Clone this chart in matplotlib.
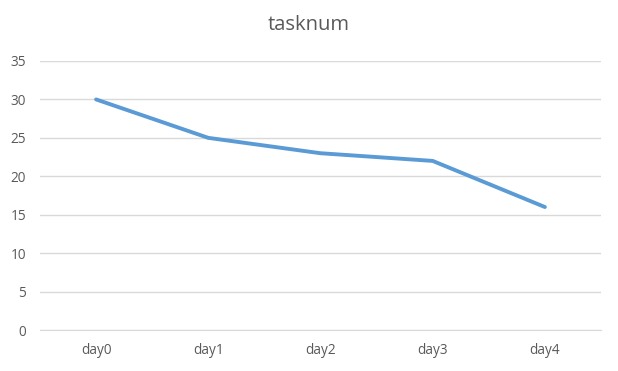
import matplotlib.pyplot as plt

days = ["day0", "day1", "day2", "day3", "day4"]
tasknum = [30, 25, 23, 22, 16]
yticks = [0, 5, 10, 15, 20, 25, 30, 35]

plt.rcParams['font.family'] = ['Open Sans', 'DejaVu Sans']

fig = plt.figure(figsize=(6.18, 3.71), dpi=100)
ax = fig.add_axes([40 / 618, 41 / 371, 561 / 618, 269 / 371])

x = list(range(len(days)))
ax.plot(x, tasknum, color='#5B9BD5', linewidth=2.8, solid_capstyle='round')

ax.set_xlim(-0.5, len(days) - 0.5)
ax.set_ylim(0, 35)
ax.set_yticks(yticks)
ax.set_xticks(x)
ax.set_xticklabels(days)
ax.grid(axis='y', color='#D9D9D9', linewidth=1)
ax.set_axisbelow(True)
for s in ax.spines.values():
    s.set_visible(False)
ax.tick_params(length=0, colors='#595959', labelsize=9.8)
ax.tick_params(axis='x', pad=9)
ax.tick_params(axis='y', pad=10)
ax.spines['bottom'].set_visible(True)
ax.spines['bottom'].set_color('#D9D9D9')

fig.text(0.5, 1 - 25 / 371, "tasknum", ha='center', va='center', fontsize=14.5, color='#595959')

fig.savefig("out.png", dpi=100)
